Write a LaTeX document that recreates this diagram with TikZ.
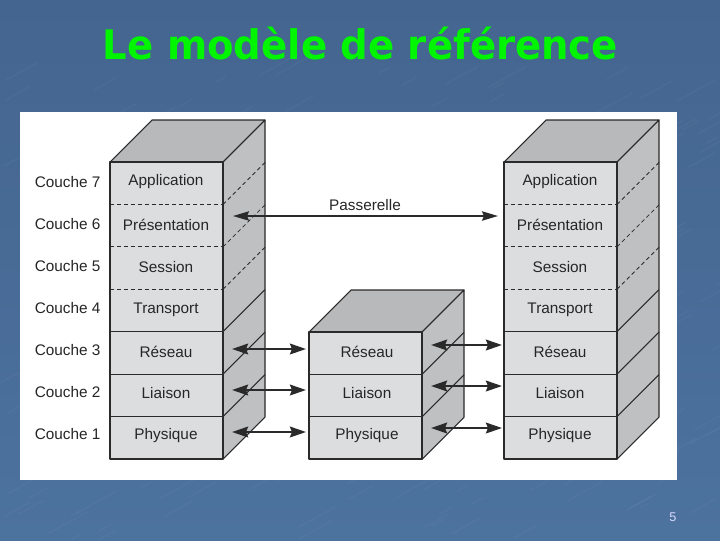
\documentclass[tikz,border=0pt]{standalone}
\usepackage{fontspec}
\setmainfont{Liberation Sans}
\newfontfamily\titlefont{DejaVu Sans}
\usetikzlibrary{arrows.meta}
\definecolor{bgtop}{HTML}{44658F}
\definecolor{bgbot}{HTML}{4C729E}
\definecolor{frontc}{HTML}{DCDDDF}
\definecolor{sidec}{HTML}{BFC0C2}
\definecolor{topc}{HTML}{B8B9BB}
\definecolor{inkc}{HTML}{2A2A2A}
\definecolor{titlec}{HTML}{00F500}
\tikzset{
  x=0.75pt,y=-0.75pt,
  frontface/.style={fill=frontc,draw=inkc,line width=1.4pt,line join=round},
  sideface/.style={fill=sidec,draw=inkc,line width=0.8pt,line join=round},
  topface/.style={fill=topc,draw=inkc,line width=0.8pt,line join=round},
  solidsep/.style={draw=inkc,line width=0.8pt},
  dashsep/.style={draw=inkc,line width=0.6pt,dash pattern=on 3pt off 2.2pt},
  lab/.style={font=\fontsize{11.5}{12}\selectfont,text=black!85,inner sep=0pt,anchor=center},
  dbl/.style={draw=inkc,line width=1.8pt,{Stealth[length=12pt,width=8pt,inset=1.5pt]}-{Stealth[length=12pt,width=8pt,inset=1.5pt]}},
  wisp/.style={draw=white,line width=1.2pt,opacity=0.03,line cap=round}
}
\newcommand{\stack}[4]{% x, ytop, rows, first solid row
  \def\xa{#1}\def\yt{#2}\def\nr{#3}\def\fs{#4}
  \pgfmathsetmacro{\xb}{\xa+113}
  \pgfmathsetmacro{\yb}{\yt+42.43*\nr}
  \draw[topface] (\xa,\yt) -- ++(42,-42) -- ++(113,0) -- ++(-42,42) -- cycle;
  \draw[sideface] (\xb,\yt) -- ++(42,-42) -- (\xb+42,\yb-42) -- (\xb,\yb) -- cycle;
  \draw[frontface] (\xa,\yt) rectangle (\xb,\yb);
  \foreach \i in {1,...,\numexpr\nr-1\relax}{
    \pgfmathsetmacro{\yy}{\yt+42.43*\i}
    \ifnum\i<\fs
      \draw[dashsep] (\xa,\yy) -- (\xb,\yy);
      \draw[dashsep] (\xb,\yy) -- ++(42,-42);
    \else
      \draw[solidsep] (\xa,\yy) -- (\xb,\yy);
      \draw[solidsep] (\xb,\yy) -- ++(42,-42);
    \fi
  }
}
\begin{document}
\begin{tikzpicture}
\clip (0,0) rectangle (720,540);
\useasboundingbox (0,0) rectangle (720,540);
\shade[top color=bgtop,bottom color=bgbot] (0,0) rectangle (720,540);
\pgfmathsetseed{7}
\foreach \i in {1,...,300}{
  \pgfmathsetmacro{\px}{random(0,720)}
  \pgfmathsetmacro{\py}{random(70,540)}
  \pgfmathsetmacro{\ln}{random(8,40)}
  \draw[wisp] (\px,\py) -- ++(\ln,-\ln*0.55);
}
\node[font=\titlefont\bfseries\fontsize{30.5}{36}\selectfont,text=titlec,inner sep=0pt,xscale=0.95] (title) at (360.5,44) {Le modèle de référence};
\fill[white] (20,112) rectangle (677,480);
\stack{110}{162}{7}{4}
\stack{309}{332}{3}{1}
\stack{504}{162}{7}{4}
\foreach \n/\t/\y in {c7/Couche 7/182.5,c6/Couche 6/224.5,c5/Couche 5/266.5,c4/Couche 4/308.5,c3/Couche 3/350.5,c2/Couche 2/392.5,c1/Couche 1/434.5}{
  \node[lab,anchor=west] (\n) at (34.5,\y) {\t};
}
\foreach \n/\t/\y in {a/Application/182,b/Présentation/225,c/Session/267,d/Transport/309.5,e/Réseau/351.5,f/Liaison/393.5,g/Physique/436}{
  \node[lab] (l\n) at (166,\y) {\t};
  \node[lab] (r\n) at (560,\y) {\t};
}
\foreach \n/\t/\y in {e/Réseau/351.5,f/Liaison/393.5,g/Physique/436}{
  \node[lab] (m\n) at (367,\y) {\t};
}
\node[lab] (pass) at (365,205.5) {Passerelle};
\coordinate (pl) at (233,216);
\coordinate (pr) at (498,216);
\draw[draw=inkc,line width=1.3pt,{Stealth[length=12pt,width=7pt,inset=1.5pt]}-{Stealth[length=12pt,width=7pt,inset=1.5pt]}] (pl) -- (pr);
\foreach \y/\k in {349/a,390/b,432/c}{
  \coordinate (la\k) at (232,\y); \coordinate (lb\k) at (306,\y);
  \draw[dbl] (la\k) -- (lb\k);
}
\foreach \y/\k in {345/a,386/b,428/c}{
  \coordinate (ma\k) at (431,\y); \coordinate (mb\k) at (502,\y);
  \draw[dbl] (ma\k) -- (mb\k);
}
\node[font=\fontsize{9.5}{11}\selectfont,text=white!85!blue,inner sep=0pt] (num) at (673,517) {5};
\end{tikzpicture}
\end{document}
